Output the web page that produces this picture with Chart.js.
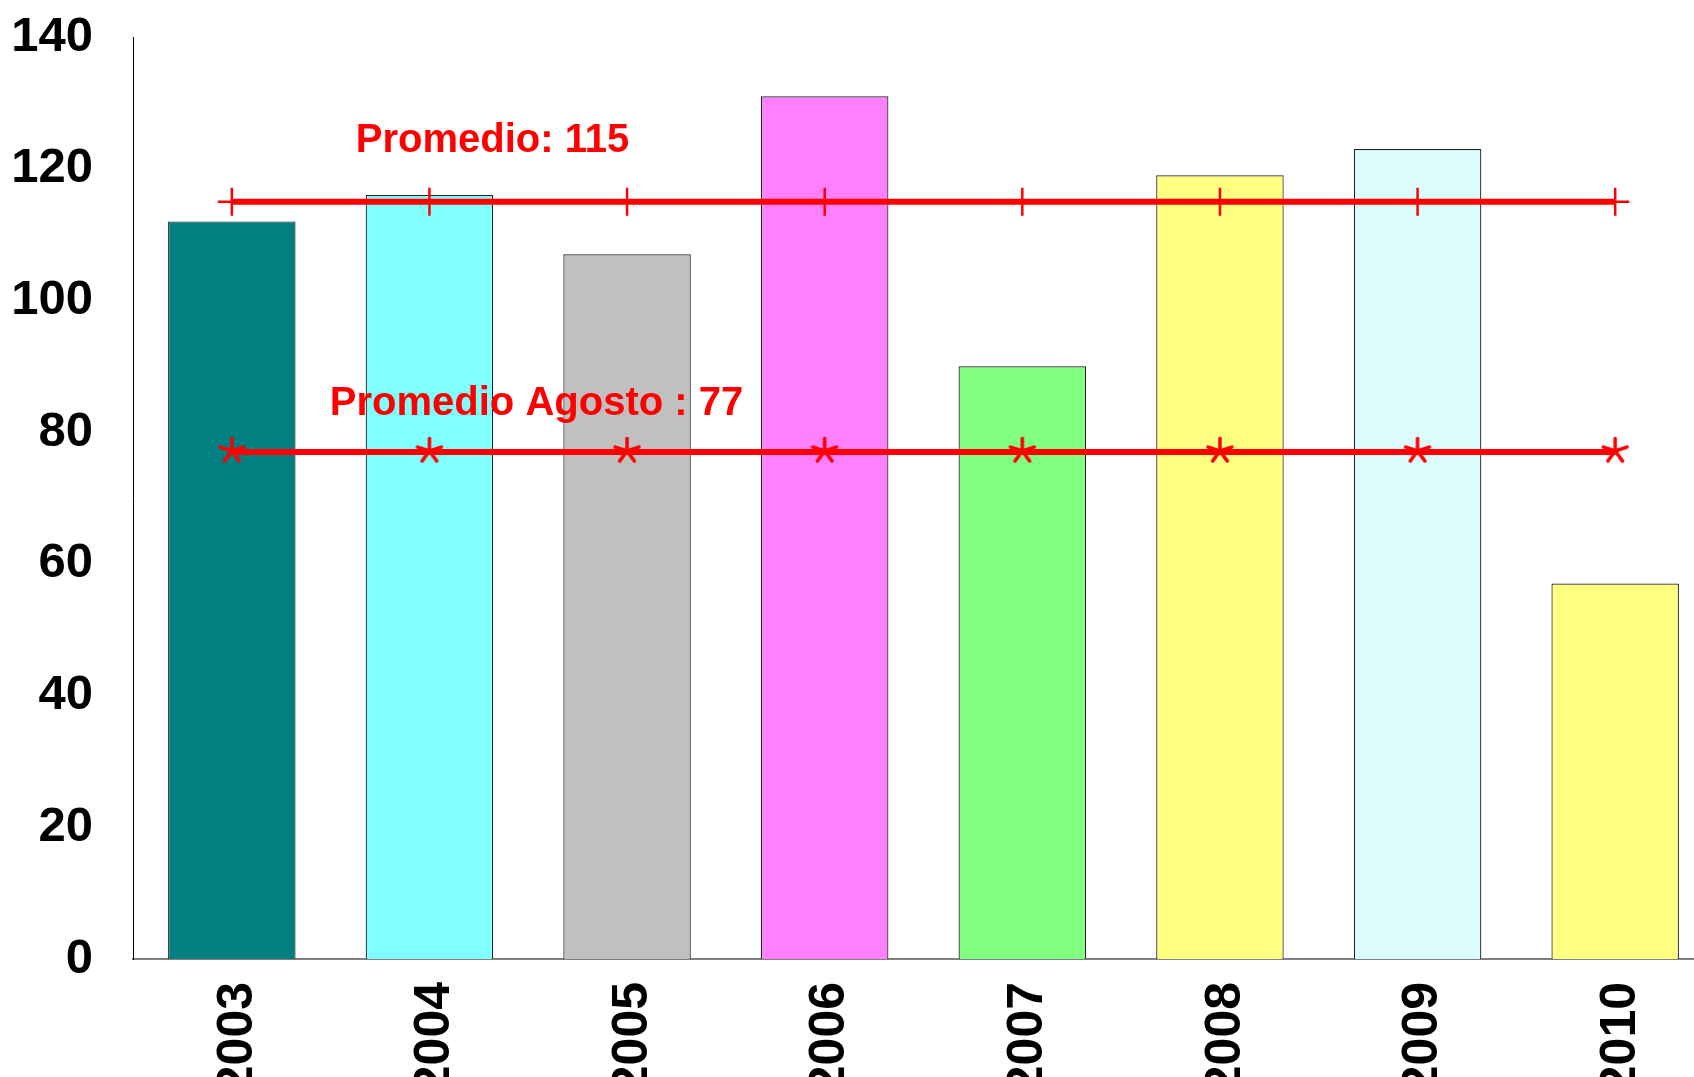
<!DOCTYPE html>
<html>
<head>
<meta charset="utf-8">
<script src="https://cdn.jsdelivr.net/npm/chart.js@4/dist/chart.umd.min.js"></script>
<style>
  html, body { margin: 0; padding: 0; background: #ffffff; overflow: hidden; width: 1694px; height: 1077px; }
  #wrap { position: absolute; left: 0; top: 0; }
</style>
</head>
<body>
<div id="wrap"><canvas id="c" width="1750" height="1110"></canvas></div>
<script>
// ---- data ----
const years = ['2003', '2004', '2005', '2006', '2007', '2008', '2009', '2010'];
const valores = [112, 116, 107, 131, 90, 119, 123, 57];
const barColors = ['#008080', '#80FFFF', '#C0C0C0', '#FF80FF', '#80FF80', '#FFFF80', '#DAFCFC', '#FFFF80'];
const promedioSerie = [115, 115, 115, 115, 115, 115, 115, 115];
const promedioAgostoSerie = [77, 77, 77, 77, 77, 77, 77, 77];
const promedioLabel = 'Promedio: 115';
const promedioAgostoLabel = 'Promedio Agosto : 77';
const yMin = 0, yMax = 140, yStep = 20;

// asterisk marker
function makeAsterisk() {
  const s = 32, c = document.createElement('canvas');
  c.width = s; c.height = s;
  const g = c.getContext('2d');
  g.strokeStyle = '#FF0000';
  g.lineWidth = 3.5;
  g.lineCap = 'round';
  const cx = s / 2, cy = s / 2 - 1, L = 12.5;
  [-90, -18, -162, 54, 126].forEach(a => {
    const r = a * Math.PI / 180;
    g.beginPath();
    g.moveTo(cx, cy);
    g.lineTo(cx + L * Math.cos(r), cy + L * Math.sin(r));
    g.stroke();
  });
  return c;
}

const FONT = "'Liberation Sans', Arial, Helvetica, sans-serif";

const labelPlugin = {
  id: 'avgLabels',
  afterDatasetsDraw(chart) {
    const ctx = chart.ctx;
    const xs = chart.scales.x, ys = chart.scales.y;
    const x0 = xs.getPixelForValue(0);
    ctx.save();
    ctx.fillStyle = '#FF0000';
    ctx.font = 'bold 40px ' + FONT;
    ctx.textAlign = 'left';
    ctx.textBaseline = 'alphabetic';
    ctx.fillText(promedioLabel, x0 + 124, ys.getPixelForValue(promedioSerie[0]) - 50);
    ctx.fillText(promedioAgostoLabel, x0 + 98, ys.getPixelForValue(promedioAgostoSerie[0]) - 36.5);
    ctx.restore();
  }
};

new Chart(document.getElementById('c'), {
  type: 'bar',
  data: {
    labels: years,
    datasets: [
      {
        type: 'line',
        data: promedioSerie,
        borderColor: '#FF0000',
        backgroundColor: '#FF0000',
        borderWidth: 6,
        pointStyle: 'cross',
        pointRadius: 14,
        pointBorderWidth: 2.5,
        pointBorderColor: '#FF0000',
        fill: false,
        tension: 0,
        order: 0
      },
      {
        type: 'line',
        data: promedioAgostoSerie,
        borderColor: '#FF0000',
        backgroundColor: '#FF0000',
        borderWidth: 6,
        pointStyle: makeAsterisk(),
        pointRadius: 14,
        fill: false,
        tension: 0,
        order: 0
      },
      {
        type: 'bar',
        data: valores,
        backgroundColor: barColors,
        borderColor: '#222222',
        borderWidth: 1.2,
        barPercentage: 0.645,
        categoryPercentage: 1.0,
        order: 1
      }
    ]
  },
  options: {
    responsive: false,
    animation: false,
    devicePixelRatio: 1,
    layout: { padding: { top: 37, right: 36, left: 0, bottom: 0 } },
    plugins: { legend: { display: false }, tooltip: { enabled: false } },
    scales: {
      x: {
        grid: { display: false, drawTicks: false },
        border: { display: true, color: '#808080', width: 2 },
        ticks: {
          color: '#000000',
          font: { family: FONT, size: 50, weight: 'bold' },
          minRotation: 90,
          maxRotation: 90,
          padding: 23,
          labelOffset: 6,
          autoSkip: false
        },
        afterFit(scale) {
          scale.height = 151;
          scale.paddingLeft = 0; scale.paddingRight = 0;
          scale.paddingTop = 0; scale.paddingBottom = 0;
        }
      },
      y: {
        min: yMin,
        max: yMax,
        grid: { display: false, drawTicks: false },
        border: { display: true, color: '#000000', width: 1 },
        ticks: {
          stepSize: yStep,
          color: '#000000',
          font: { family: FONT, size: 49, weight: 'bold' },
          padding: 40
        },
        afterFit(scale) {
          scale.width = 133;
          scale.paddingTop = 0; scale.paddingBottom = 0;
          scale.paddingLeft = 0; scale.paddingRight = 0;
        }
      }
    }
  },
  plugins: [labelPlugin]
});
</script>
</body>
</html>
